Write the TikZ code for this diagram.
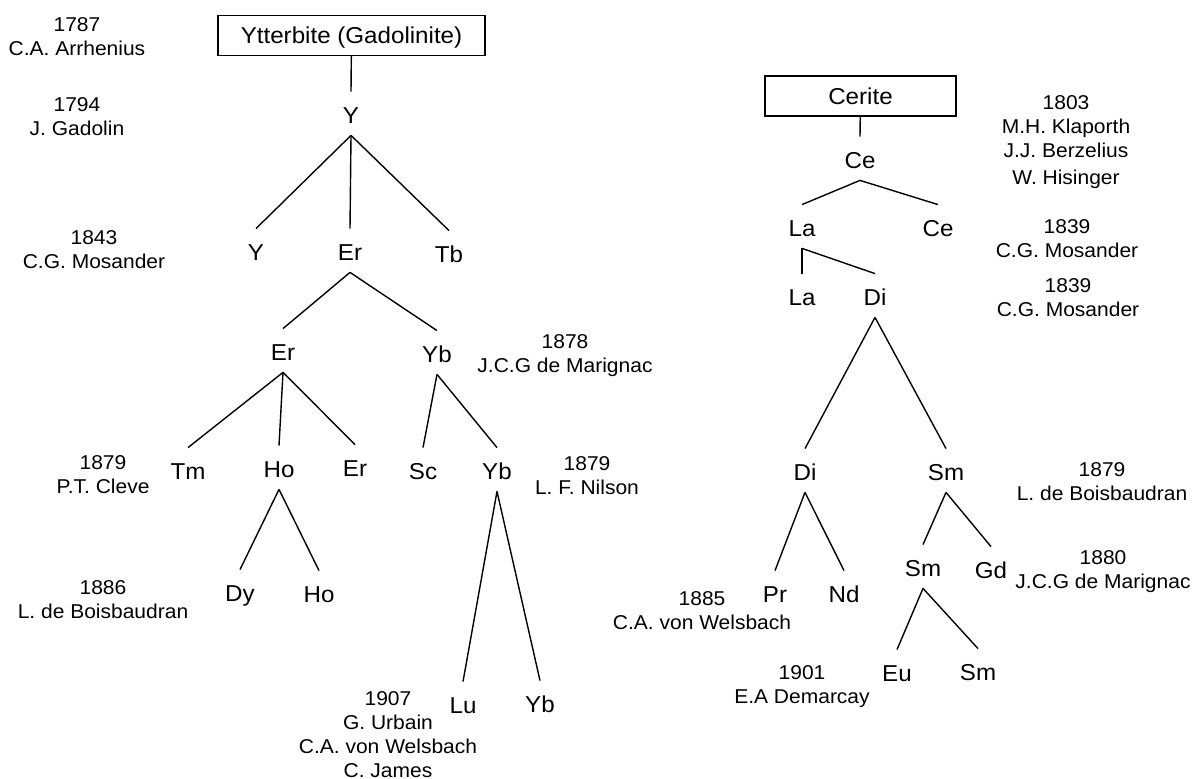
\documentclass[tikz,border=0pt]{standalone}
\usepackage{fontspec}
\setmainfont{Liberation Sans}[FakeStretch=1.05]
\newcommand\elementfont{\fontsize{11.5}{13}\selectfont}
\newcommand\notefont{\fontsize{10}{12}\selectfont}
\tikzset{
  mineral box/.style={
    rectangle, draw, line width=0.7pt, inner sep=0pt,
    minimum height=20pt, text height=8.2pt, text depth=0pt,
    font=\elementfont
  },
  element node/.style={
    inner sep=0pt, text height=15.6pt, text depth=5.9pt,
    yshift=0.75pt, font=\elementfont
  },
  discovery note/.style={
    anchor=north, align=center, inner sep=0pt, font=\notefont
  },
  split line/.style={line width=0.7pt}
}

\begin{document}
\begin{tikzpicture}[x=0.5pt, y=-0.5pt]
    \useasboundingbox (0,0) rectangle (1193,779);
    \node[mineral box, minimum width=133.5pt] (ytterbite) at (351.5,35.5) {Ytterbite (Gadolinite)};
    \node[element node] (y1) at (351,115) {Y};
    \node[element node] (y2) at (256,252) {Y};
    \node[element node] (er1) at (350,252) {Er};
    \node[element node] (tb) at (449,254) {Tb};
    \node[element node] (er2) at (283,352) {Er};
    \node[element node] (yb1) at (437,354) {Yb};
    \node[element node] (tm) at (188,471) {Tm};
    \node[element node] (ho1) at (279,469) {Ho};
    \node[element node] (er3) at (355,468) {Er};
    \node[element node] (sc) at (423,471) {Sc};
    \node[element node] (yb2) at (497,471) {Yb};
    \node[element node] (dy) at (240,593) {Dy};
    \node[element node] (ho2) at (319,594) {Ho};
    \node[element node] (lu) at (463,705) {Lu};
    \node[element node] (yb3) at (540,704) {Yb};
    \draw[split line] (ytterbite) -- (y1.north);
    \draw[split line] (y1.south) -- (y2.north);
    \draw[split line] (y1.south) -- (er1.north);
    \draw[split line] (y1.south) -- (tb.north);
    \draw[split line] (er1.south) -- (er2.north);
    \draw[split line] (er1.south) -- (yb1.north);
    \draw[split line] (er2.south) -- (tm.north);
    \draw[split line] (er2.south) -- (ho1.north);
    \draw[split line] (er2.south) -- (er3.north);
    \draw[split line] (yb1.south) -- (sc.north);
    \draw[split line] (yb1.south) -- (yb2.north);
    \draw[split line] (ho1.south) -- (dy.north);
    \draw[split line] (ho1.south) -- (ho2.north);
    \draw[split line] (yb2.south) -- (lu.north);
    \draw[split line] (yb2.south) -- (yb3.north);
    \node[discovery note] (arrhenius) at (77,17) {1787\\C.A. Arrhenius};
    \node[discovery note] (gadolin) at (77,97) {1794\\J. Gadolin};
    \node[discovery note] (mosander) at (94,230) {1843\\C.G. Mosander};
    \node[discovery note] (marignac) at (565,334) {1878\\J.C.G de Marignac};
    \node[discovery note] (cleve) at (103,455) {1879\\P.T. Cleve};
    \node[discovery note] (nilson) at (587,456) {1879\\L. F. Nilson};
    \node[discovery note] (boisbaudran) at (103,580) {1886\\L. de Boisbaudran};
    \node[discovery note] (urbain) at (388,691) {1907\\G. Urbain\\C.A. von Welsbach\\C. James};
    \node[mineral box, minimum width=95.5pt] (cerite) at (860.5,96) {Cerite};
    \node[element node] (ce1) at (860,160) {Ce};
    \node[element node] (la1) at (802,228) {La};
    \node[element node] (ce2) at (938,228) {Ce};
    \node[element node] (la2) at (802,297) {La};
    \node[element node] (di1) at (875,297) {Di};
    \node[element node] (di2) at (805,472) {Di};
    \node[element node] (sm1) at (946,472) {Sm};
    \node[element node] (pr) at (775,594) {Pr};
    \node[element node] (nd) at (844,594) {Nd};
    \node[element node] (sm2) at (923,568) {Sm};
    \node[element node] (gd) at (991,570) {Gd};
    \node[element node] (eu) at (897,673) {Eu};
    \node[element node] (sm3) at (978,672) {Sm};
    \draw[split line] (cerite) -- (ce1.north);
    \draw[split line] (ce1.south) -- (la1.north);
    \draw[split line] (ce1.south) -- (ce2.north);
    \draw[split line] (la1.south) -- (la2.north);
    \draw[split line] (la1.south) -- (di1.north);
    \draw[split line] (di1.south) -- (di2.north);
    \draw[split line] (di1.south) -- (sm1.north);
    \draw[split line] (di2.south) -- (pr.north);
    \draw[split line] (di2.south) -- (nd.north);
    \draw[split line] (sm1.south) -- (sm2.north);
    \draw[split line] (sm1.south) -- (gd.north);
    \draw[split line] (sm2.south) -- (eu.north);
    \draw[split line] (sm2.south) -- (sm3.north);
    \node[discovery note] (klaproth) at (1066,95) {1803\\M.H. Klaporth\\J.J. Berzelius\\[1.5pt]W. Hisinger};
    \node[discovery note] (mosander1) at (1067,219) {1839\\C.G. Mosander};
    \node[discovery note] (mosander2) at (1068,278) {1839\\C.G. Mosander};
    \node[discovery note] (boisbaudran2) at (1102,462) {1879\\L. de Boisbaudran};
    \node[discovery note] (marignac2) at (1103,550) {1880\\J.C.G de Marignac};
    \node[discovery note] (welsbach) at (702,591) {1885\\C.A. von Welsbach};
    \node[discovery note] (demarcay) at (802,665) {1901\\E.A Demarcay};
  \end{tikzpicture}
\end{document}
